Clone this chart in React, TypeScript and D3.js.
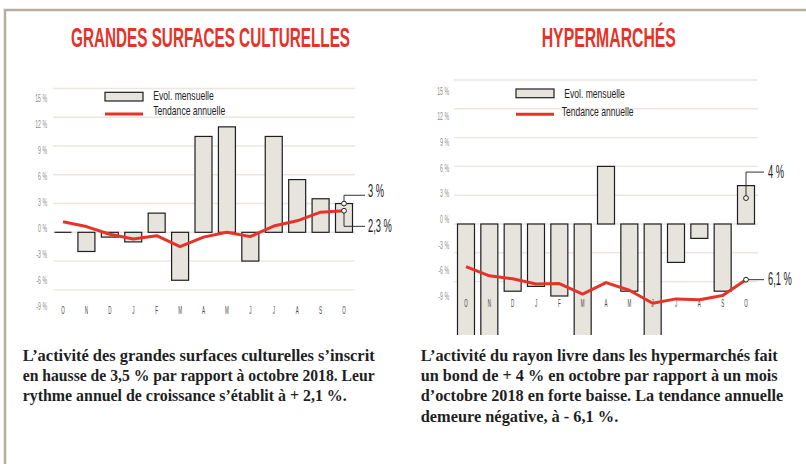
import * as d3 from 'd3';

const MONTHS = ['O', 'N', 'D', 'J', 'F', 'M', 'A', 'M', 'J', 'J', 'A', 'S', 'O'];
const TICK_LABELS = [15, 12, 9, 6, 3, 0, -3, -6, -9];
const GRID_VALUES = [15, 12, 9, 6, 3, 0, -3, -6];

// Grandes surfaces culturelles (%)
const GSC_MONTHLY = [0, -2, -0.5, -1, 2, -5, 10, 11, -3, 10, 5.5, 3.5, 3];
const GSC_TREND = [1.1, 0.6, -0.2, -0.7, -0.35, -1.5, -0.5, 0, -0.45, 0.65, 1.2, 2.1, 2.25];

// Hypermarchés (%)
const HYPER_MONTHLY = [-14, -14, -7, -6.5, -7.5, -13, 6, -7, -13, -4, -1.5, -7, 4];
const HYPER_TREND = [-4.45, -5.4, -5.7, -6.25, -6.2, -7.3, -6.1, -6.9, -8.25, -7.8, -7.9, -7.45, -5.8];

const GSC_NOTES = [
  { label: '3 %', value: 3 },
  { label: '2,3 %', value: 2.25 },
];
const HYPER_NOTES = [
  { label: '4 %', value: 2.7 },
  { label: '6,1 %', value: -5.8 },
];

const GSC_CAPTION = [
  'L\u2019activité des grandes surfaces culturelles s\u2019inscrit',
  'en hausse de 3,5 % par rapport à octobre 2018. Leur',
  'rythme annuel de croissance s\u2019établit à + 2,1 %.',
];
const HYPER_CAPTION = [
  'L\u2019activité du rayon livre dans les hypermarchés fait',
  'un bond de + 4 % en octobre par rapport à un mois',
  'd\u2019octobre 2018 en forte baisse. La tendance annuelle',
  'demeure négative, à - 6,1 %.',
];

const RED = '#e5332a';
const BAR_FILL = '#e7e3dd';
const GRID = '#ebe6df';
const SANS = '"Liberation Sans", Arial, sans-serif';
const SERIF = '"Liberation Serif", serif';

type Layout = {
  title: string;
  titleX: number;
  titleScale: number;
  xRange: [number, number];
  yRange: [number, number];
  labelRange: [number, number];
  gridX: [number, number];
  tickX: number;
  monthY: number;
  clipBottom: number;
  legend: { rectX: number; rectY: number; lineY: number; t1X: number; t1Y: number; t2X: number; t2Y: number };
  notes: { dy: number; textDy: number }[];
  leaderEnd: number;
  labelX: number;
};

function Panel({ id, layout, monthly, trend, notes }: { id: string; layout: Layout; monthly: number[]; trend: number[]; notes: { label: string; value: number }[] }) {
  const x = d3.scalePoint<number>().domain(d3.range(MONTHS.length)).range(layout.xRange);
  const y = d3.scaleLinear().domain([-9, 15]).range(layout.yRange);
  const yLabel = d3.scaleLinear().domain([-9, 15]).range(layout.labelRange);
  const line = d3.line<number>().x((_, i) => x(i)!).y((d) => y(d));
  const barW = 17;
  const last = MONTHS.length - 1;
  const lg = layout.legend;

  return (
    <g>
      <text transform={`translate(${layout.titleX},47) scale(${layout.titleScale},1)`} fontFamily={SANS} fontWeight="bold" fontSize={28} fill={RED}>
        {layout.title}
      </text>

      {GRID_VALUES.map((v) => (
        <line key={v} x1={layout.gridX[0]} x2={layout.gridX[1]} y1={y(v)} y2={y(v)} stroke={GRID} strokeWidth={1.4} />
      ))}

      {TICK_LABELS.map((v) => (
        <text key={v} transform={`translate(${layout.tickX},${yLabel(v)}) scale(0.52,1)`} textAnchor="end" fontFamily={SANS} fontSize={10} fill="#8c8c8c">
          {v} %
        </text>
      ))}

      <defs>
        <clipPath id={`clip-${id}`}>
          <rect x={0} y={0} width={806} height={layout.clipBottom} />
        </clipPath>
      </defs>

      <g clipPath={`url(#clip-${id})`}>
        {monthly.map((v, i) => {
          const top = Math.min(y(v), y(0));
          const h = Math.abs(y(v) - y(0));
          if (h < 0.5) {
            return <line key={i} x1={x(i)! - barW / 2} x2={x(i)! + barW / 2} y1={y(0)} y2={y(0)} stroke="#1e1e1e" strokeWidth={1.2} />;
          }
          return <rect key={i} x={x(i)! - barW / 2} y={top} width={barW} height={h} fill={BAR_FILL} stroke="#1e1e1e" strokeWidth={1.2} />;
        })}
      </g>

      {MONTHS.map((m, i) => (
        <text key={i} transform={`translate(${x(i)},${layout.monthY}) scale(0.45,1)`} textAnchor="middle" fontFamily={SANS} fontSize={10} fill="#444">
          {m}
        </text>
      ))}

      <path d={line(trend) ?? ''} fill="none" stroke={RED} strokeWidth={3} strokeLinejoin="round" />

      {/* legend */}
      <rect x={lg.rectX} y={lg.rectY} width={38} height={8.7} fill={BAR_FILL} stroke="#1e1e1e" strokeWidth={1.2} />
      <text transform={`translate(${lg.t1X},${lg.t1Y}) scale(0.67,1)`} fontFamily={SANS} fontSize={12.8} fill="#1e1e1e">
        Evol. mensuelle
      </text>
      <line x1={lg.rectX} x2={lg.rectX + 38} y1={lg.lineY} y2={lg.lineY} stroke={RED} strokeWidth={3} />
      <text transform={`translate(${lg.t2X},${lg.t2Y}) scale(0.67,1)`} fontFamily={SANS} fontSize={12.8} fill="#1e1e1e">
        Tendance annuelle
      </text>

      {/* annotations */}
      {notes.map((n, k) => {
        const cx = x(last)!;
        const cy = y(n.value);
        const o = layout.notes[k];
        const ly = cy + o.dy;
        return (
          <g key={k}>
            <path d={`M${cx},${cy}V${ly}H${layout.leaderEnd}`} fill="none" stroke="#333" strokeWidth={1} />
            <circle cx={cx} cy={cy} r={2.4} fill="#fff" stroke="#1e1e1e" strokeWidth={1} />
            <text transform={`translate(${layout.labelX},${ly + o.textDy}) scale(0.49,1)`} fontFamily={SANS} fontSize={19} fill="#1e1e1e">
              {n.label}
            </text>
          </g>
        );
      })}
    </g>
  );
}

function Caption({ lines, x, widths }: { lines: string[]; x: number; widths: number[] }) {
  return (
    <g>
      {lines.map((l, i) => (
        <text key={i} x={x} y={361 + i * 20.2} fontFamily={SERIF} fontWeight="bold" fontSize={16} fill="#1f1f1f" textLength={widths[i]} lengthAdjust="spacingAndGlyphs">
          {l}
        </text>
      ))}
    </g>
  );
}

const LEFT: Layout = {
  title: 'GRANDES SURFACES CULTURELLES',
  titleX: 71,
  titleScale: 0.546,
  xRange: [63, 344],
  yRange: [318.6, 88.5],
  labelRange: [310.2, 101.8],
  gridX: [53, 355],
  tickX: 47,
  monthY: 313.6,
  clipBottom: 340,
  legend: { rectX: 105, rectY: 92.3, lineY: 114, t1X: 153.3, t1Y: 100, t2X: 153.3, t2Y: 115 },
  notes: [
    { dy: -8.3, textDy: 1.6 },
    { dy: 15.6, textDy: 5.7 },
  ],
  leaderEnd: 365,
  labelX: 368,
};

const RIGHT: Layout = {
  title: 'HYPERMARCHÉS',
  titleX: 541.7,
  titleScale: 0.564,
  xRange: [466, 746],
  yRange: [310.4, 80],
  labelRange: [300.2, 94.5],
  gridX: [454, 758],
  tickX: 449,
  monthY: 307,
  clipBottom: 335,
  legend: { rectX: 516, rectY: 89, lineY: 114.3, t1X: 564.3, t1Y: 97.7, t2X: 561.7, t2Y: 115.7 },
  notes: [
    { dy: -26, textDy: 5.7 },
    { dy: 0, textDy: 5.7 },
  ],
  leaderEnd: 764,
  labelX: 768,
};

export default function App() {
  return (
    <svg width={806} height={464} style={{ position: 'absolute', left: 0, top: 0, background: '#fff' }}>
      <path d="M5,464V10H806" fill="none" stroke="#b7ada1" strokeWidth={2.5} />
      <Panel id="gsc" layout={LEFT} monthly={GSC_MONTHLY} trend={GSC_TREND} notes={GSC_NOTES} />
      <Panel id="hyper" layout={RIGHT} monthly={HYPER_MONTHLY} trend={HYPER_TREND} notes={HYPER_NOTES} />
      <Caption lines={GSC_CAPTION} x={22.7} widths={[352, 352, 324]} />
      <Caption lines={HYPER_CAPTION} x={420.7} widths={[357, 357, 362.6, 197.6]} />
    </svg>
  );
}
